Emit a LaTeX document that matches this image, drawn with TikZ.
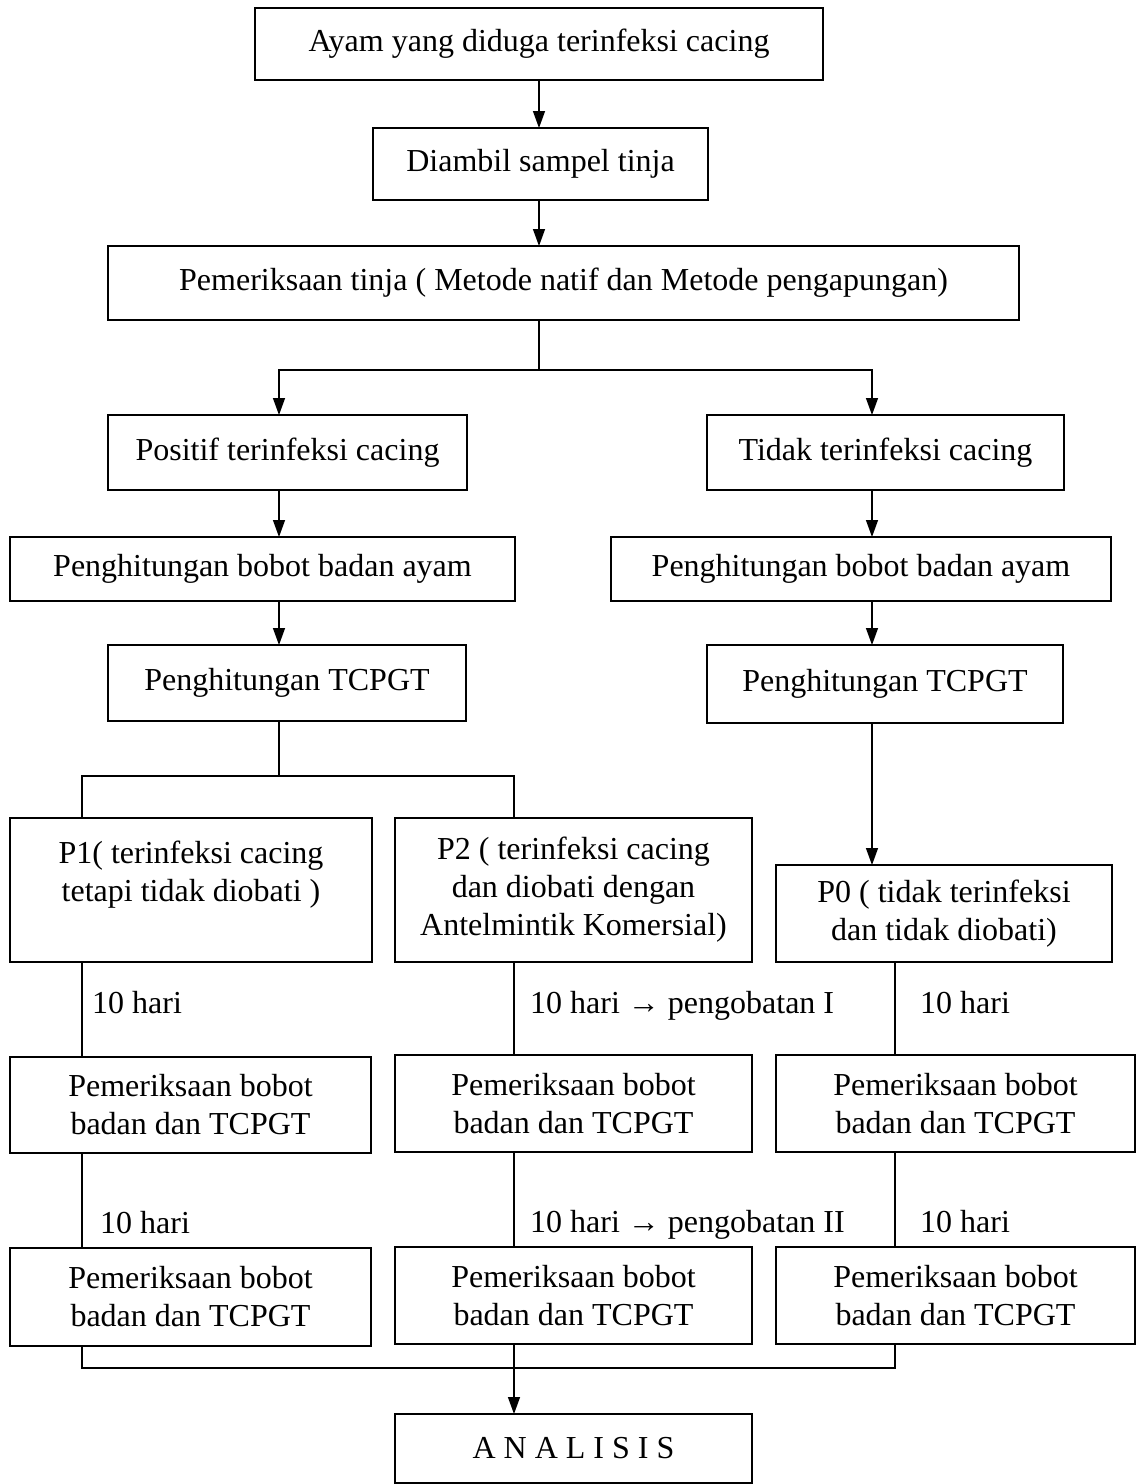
\documentclass[tikz,border=0pt]{standalone}
\usepackage{fontspec}
\setmainfont{Liberation Serif}
\usetikzlibrary{arrows.meta}
\tikzset{
  box/.style={draw, line width=2pt, rectangle, inner sep=0pt, outer sep=0pt, align=center,
    font=\fontsize{32}{38}\selectfont},
  lbl/.style={inner sep=0pt, anchor=base west, font=\fontsize{32}{38}\selectfont},
  conn/.style={line width=1.4pt},
  arr/.style={line width=1.4pt, -{Triangle[length=17pt,width=12pt]}}
}
\begin{document}
\begin{tikzpicture}[x=1pt,y=-1pt]
\useasboundingbox (0,0) rectangle (1137,1484);
% column coordinates
\coordinate (mx) at (539,0);
\coordinate (lx) at (279,0);
\coordinate (rx) at (872,0);
\coordinate (x82) at (82,0);
\coordinate (x514) at (514,0);
\coordinate (x895) at (895,0);
% boxes
\node[box, minimum width=568pt, minimum height=72pt] (b1) at (539,44) {Ayam yang diduga terinfeksi cacing};
\node[box, minimum width=335pt, minimum height=72pt] (b2) at (540.5,164) {Diambil sampel tinja};
\node[box, minimum width=911pt, minimum height=74pt] (b3) at (563.5,283) {Pemeriksaan tinja ( Metode natif dan Metode pengapungan)};
\node[box, minimum width=359pt, minimum height=75pt] (b4) at (287.5,452.5) {Positif terinfeksi cacing};
\node[box, minimum width=357pt, minimum height=75pt] (b5) at (885.5,452.5) {Tidak terinfeksi cacing};
\node[box, minimum width=505pt, minimum height=64pt] (b6) at (262.5,569) {Penghitungan bobot badan ayam};
\node[box, minimum width=500pt, minimum height=64pt] (b7) at (861,569) {Penghitungan bobot badan ayam};
\node[box, minimum width=358pt, minimum height=76pt] (b8) at (287,683) {Penghitungan TCPGT};
\node[box, minimum width=356pt, minimum height=78pt] (b9) at (885,684) {Penghitungan TCPGT};
\node[box, minimum width=362pt, minimum height=144pt] (p1) at (191,890) {P1( terinfeksi cacing\\tetapi tidak diobati )\\\mbox{}};
\node[box, minimum width=357pt, minimum height=144pt] (p2) at (573.5,890) {P2 ( terinfeksi cacing\\dan diobati dengan\\Antelmintik Komersial)};
\node[box, minimum width=336pt, minimum height=97pt] (p0) at (944,913.5) {P0 ( tidak terinfeksi\\dan tidak diobati)};
\node[box, minimum width=361pt, minimum height=96pt] (c1) at (190.5,1105) {Pemeriksaan bobot\\badan dan TCPGT};
\node[box, minimum width=357pt, minimum height=97pt] (c2) at (573.5,1103.5) {Pemeriksaan bobot\\badan dan TCPGT};
\node[box, minimum width=359pt, minimum height=97pt] (c3) at (955.5,1103.5) {Pemeriksaan bobot\\badan dan TCPGT};
\node[box, minimum width=361pt, minimum height=98pt] (d1) at (190.5,1297) {Pemeriksaan bobot\\badan dan TCPGT};
\node[box, minimum width=357pt, minimum height=97pt] (d2) at (573.5,1295.5) {Pemeriksaan bobot\\badan dan TCPGT};
\node[box, minimum width=359pt, minimum height=97pt] (d3) at (955.5,1295.5) {Pemeriksaan bobot\\badan dan TCPGT};
\node[box, minimum width=357pt, minimum height=69pt] (an) at (573.5,1448.5) {A N A L I S I S};
% labels
\node[lbl] (l1) at (92,1013) {10 hari};
\node[lbl] (l2) at (530,1013) {10 hari → pengobatan I};
\node[lbl] (l3) at (920,1013) {10 hari};
\node[lbl] (l4) at (100,1233) {10 hari};
\node[lbl] (l5) at (530,1232) {10 hari → pengobatan II};
\node[lbl] (l6) at (920,1232) {10 hari};
% connectors
\draw[arr] (b1.south -| mx) -- (b2.north -| mx);
\draw[arr] (b2.south -| mx) -- (b3.north -| mx);
\coordinate (j1) at (539,370);
\draw[conn] (b3.south -| j1) -- (j1);
\draw[arr] (j1) -| (b4.north -| lx);
\draw[arr] (j1) -| (b5.north -| rx);
\draw[arr] (b4.south -| lx) -- (b6.north -| lx);
\draw[arr] (b6.south -| lx) -- (b8.north -| lx);
\draw[arr] (b5.south -| rx) -- (b7.north -| rx);
\draw[arr] (b7.south -| rx) -- (b9.north -| rx);
\coordinate (j2) at (279,776);
\draw[conn] (b8.south -| j2) -- (j2);
\draw[conn] (j2) -| (p1.north -| x82);
\draw[conn] (j2) -| (p2.north -| x514);
\draw[arr] (b9.south -| rx) -- (p0.north -| rx);
\draw[conn] (p1.south -| x82) -- (c1.north -| x82);
\draw[conn] (p2.south -| x514) -- (c2.north -| x514);
\draw[conn] (p0.south -| x895) -- (c3.north -| x895);
\draw[conn] (c1.south -| x82) -- (d1.north -| x82);
\draw[conn] (c2.south -| x514) -- (d2.north -| x514);
\draw[conn] (c3.south -| x895) -- (d3.north -| x895);
\coordinate (j3) at (514,1368);
\draw[conn] (d1.south -| x82) |- (j3) -| (d3.south -| x895);
\draw[arr] (d2.south -| j3) -- (an.north -| j3);
\end{tikzpicture}
\end{document}
